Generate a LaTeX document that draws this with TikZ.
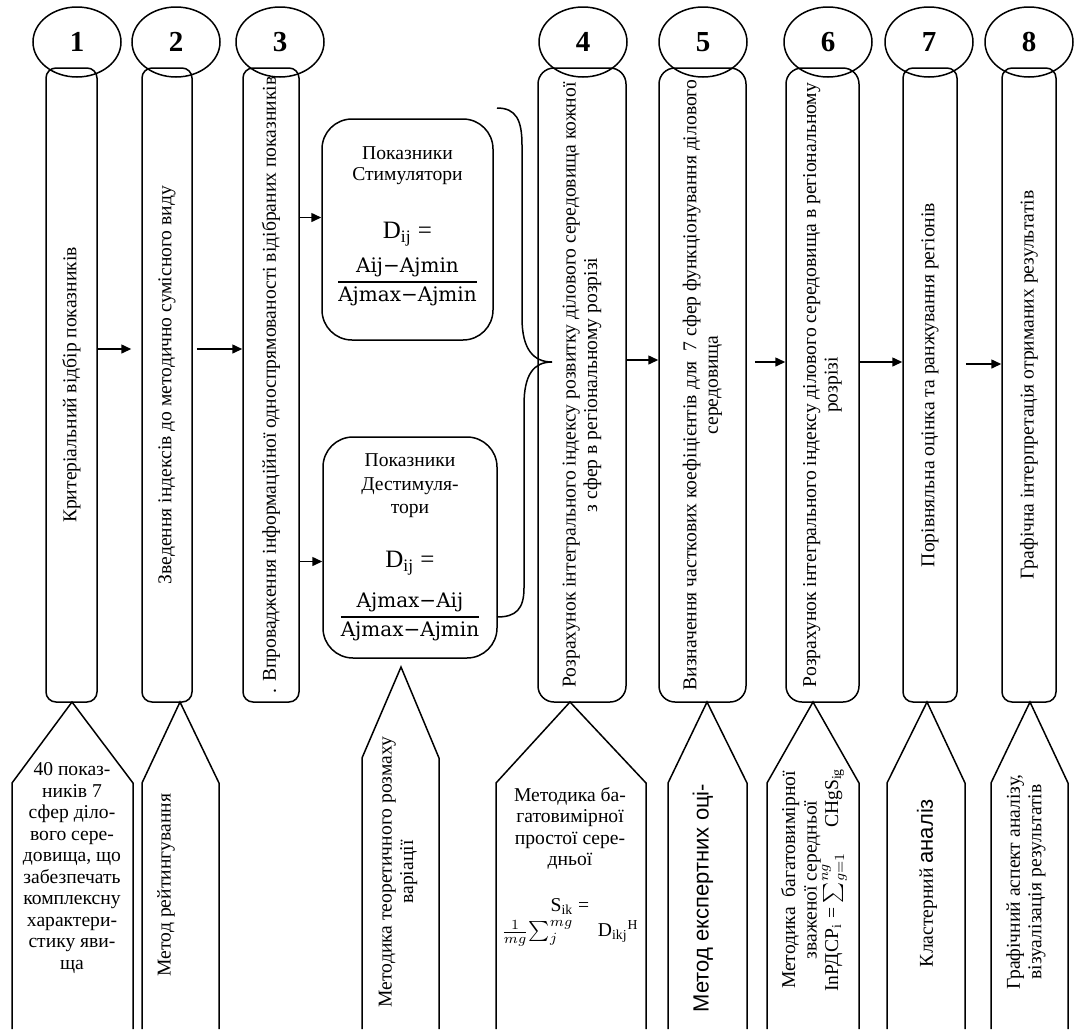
\documentclass[tikz,border=0pt]{standalone}
\usepackage{amsmath}
\usepackage{fontspec}
\setmainfont{Liberation Serif}
\newfontfamily\arialfont{Liberation Sans}
\newfontfamily\cambfont{DejaVu Serif}
\usepackage{tikz}
\usetikzlibrary{calc}
\usetikzlibrary{arrows.meta}
\usetikzlibrary{positioning}
\usetikzlibrary{shapes.geometric}

\begin{document}
\begin{tikzpicture}[x=0.5pt,y=-0.5pt,line width=0.75pt,
    font=\fontsize{9.8}{10.75}\selectfont]
% 1 unit = 1 px of the scan, y runs downwards
    \def\YMID{385}  % middle of the stage boxes
    \def\YSH{783}   % shoulders of the callouts
    \def\YAPEX{702} % callout tips = bottom of the boxes
    \def\YEND{1029} % callouts run off the page

    \tikzset{
      numoval/.style={draw,ellipse,inner sep=0pt,minimum width=44pt,
        minimum height=35pt,font=\fontsize{14.5}{16}\selectfont\bfseries},
      stagebox/.style={draw,rotate=90,rounded corners=5pt,align=center,
        minimum width=317pt,inner xsep=0.5pt,inner ysep=2pt},
      formbox/.style={draw,rounded corners=15pt,align=center,
        minimum height=110.5pt,inner sep=2pt},
      arr/.style={-{Triangle[length=5pt,width=4.5pt]}},
      vlabel/.style={rotate=90,align=center,inner sep=1pt},
    }
    % fraction of the normalisation formulas
    \newcommand{\normfrac}[2]{{\fontsize{10}{12}\selectfont
      $\genfrac{}{}{0.7pt}{0}{\text{\cambfont #1}}{\text{\cambfont #2}}$}}

    \useasboundingbox (0,0) rectangle (1082,\YEND);

    % NUMBERS
    \node[numoval] (o1) at (77,42) {1};
    \node[numoval] (o2) at (176,42) {2};
    \node[numoval] (o3) at (280,42) {3};
    \node[numoval] (o4) at (583,42) {4};
    \node[numoval] (o5) at (703,42) {5};
    \node[numoval] (o6) at (828,42) {6};
    \node[numoval] (o7) at (929,42) {7};
    \node[numoval] (o8) at (1029,42) {8};

    % STAGE BOXES
    \node[stagebox,minimum height=25.5pt] (b1) at (71.5,\YMID)
        {Критеріальний відбір показників};
    \node[stagebox,minimum height=25pt] (b2) at (167,\YMID)
        {Зведення індексів до методично сумісного виду};
    \node[stagebox,minimum height=28pt] (b3) at (271,\YMID)
        {. Впровадження інформаційної односпрямованості відібраних показників};
    \node[stagebox,rounded corners=8pt,minimum height=44pt] (b4) at (582,\YMID)
        {Розрахунок інтегрального індексу розвитку ділового середовища кожної\\
         з сфер в регіональному розрізі};
    \node[stagebox,rounded corners=8pt,minimum height=43.5pt] (b5) at (702.5,\YMID)
        {Визначення часткових коефіцієнтів для\ \ 7 сфер функціонування ділового\\
         середовища};
    \node[stagebox,rounded corners=8pt,minimum height=36.5pt] (b6) at (822.5,\YMID)
        {Розрахунок інтегрального індексу ділового середовища в регіональному\\
         розрізі};
    \node[stagebox,minimum height=27pt] (b7) at (930,\YMID)
        {Порівняльна оцінка та ранжування регіонів};
    \node[stagebox,minimum height=27pt] (b8) at (1029,\YMID)
        {Графічна інтерпретація отриманих результатів};

    % FORMULA BOXES
    \node[formbox,minimum width=85.5pt] (stim) at (407.5,229.5)
        {Показники\\Стимулятори\\[18pt]
         {\fontsize{12.5}{14}\selectfont D\textsubscript{ij} =}\\[5pt]
         \normfrac{Aij−Ajmin}{Ajmax−Ajmin}\\[2pt]~};
    \node[formbox,minimum width=87pt] (destim) at (410,547.5)
        {Показники\\[1pt]Дестимуля-\\[1pt]тори\\[16pt]
         {\fontsize{12.5}{14}\selectfont D\textsubscript{ij} =}\\[8pt]
         \normfrac{Ajmax−Aij}{Ajmax−Ajmin}};

    % ARROWS
    \draw[arr] ($(b1.south)+(0,-36)$) -- ($(b2.north)+(-10,-36)$);
    \draw[arr] ($(b2.south)+(4,-36)$) -- ($(b3.north)+(0,-36)$);
    \draw[arr] ($(b3.south |- stim.west)+(0,-12)$) -- ($(stim.west)+(0,-12)$);
    \draw[arr] ($(b3.south |- destim.west)+(0,14)$) -- ($(destim.west)+(0,14)$);
    \draw[arr] ($(b4.south)+(0,-25)$) -- ($(b5.north)+(0,-25)$);
    \draw[arr] ($(b5.south)+(8,-23)$) -- ($(b6.north)+(0,-23)$);
    \draw[arr] ($(b6.south)+(0,-23)$) -- ($(b7.north)+(0,-23)$);
    \draw[arr] ($(b7.south)+(8,-21)$) -- ($(b8.north)+(0,-21)$);

    % BRACE
    \coordinate (bracetop) at (497,108);
    \coordinate (bracebot) at (497,617);
    \coordinate (tip) at (552,362);
    \draw (bracetop) .. controls (516,108) and (522,120) .. (522,145)
        -- (522,318) .. controls (522,350) and (534,362) .. (tip);
    \draw (tip) .. controls (534,362) and (524,374) .. (524,405)
        -- (524,588) .. controls (524,609) and (516,617) .. (bracebot);

    % CALLOUTS
    \draw (12,\YEND) -- (12,\YSH) -- (72,\YAPEX) -- (133,\YSH) -- (133,\YEND);
    \draw (142,\YEND) -- (142,\YSH) -- (180,\YAPEX) -- (219,\YSH) -- (219,\YEND);
    \draw (362,\YEND) -- (362,758) -- (401,667) -- (439,758) -- (439,\YEND);
    \draw (496,\YEND) -- (496,\YSH) -- (570,\YAPEX) -- (646,\YSH) -- (646,\YEND);
    \draw (668,\YEND) -- (668,\YSH) -- (707,\YAPEX) -- (747,\YSH) -- (747,\YEND);
    \draw (767,\YEND) -- (767,\YSH) -- (813,\YAPEX) -- (859,\YSH) -- (859,\YEND);
    \draw (887,\YEND) -- (887,\YSH) -- (927,\YAPEX) -- (965,\YSH) -- (965,\YEND);
    \draw (991,\YEND) -- (991,\YSH) -- (1030,\YAPEX) -- (1068,\YSH) -- (1068,\YEND);

    % CALLOUT TEXTS
    \node[align=center,inner sep=1pt] (t1) at (72,868)
        {40 показ-\\ників 7\\сфер діло-\\вого сере-\\довища, що\\забезпечать\\
         комплексну\\характери-\\стику яви-\\ща};
    \node[vlabel] (t2) at (166,885) {Метод рейтингування};
    \node[vlabel] (t3) at (398,872) {Методика теоретичного розмаху\\варіації};
    \node[align=center,inner sep=1pt] (t4) at (570,867)
        {Методика ба-\\гатовимірної\\простої сере-\\дньої\\[12pt]
         S\textsubscript{ik} =\\[2pt]
         $\frac{1}{mg}{\textstyle\sum_{j}^{mg}}$\quad\ D\textsubscript{ikj}\textsuperscript{H}};
    \node[vlabel,font=\arialfont\fontsize{11}{13}\selectfont] (t5) at (703,898)
        {Метод експертних оці-};
    \node[vlabel] (t6) at (814,880)
        {Методика\ \ багатовимірної\\зваженої середньої\\
         InРДСР\textsubscript{i} = $\sum_{g=1}^{ng}$\quad\ CHgS\textsubscript{ig}};
    \node[vlabel] (t7) at (927,883)
        {Кластерний {\arialfont\fontsize{11}{13}\selectfont аналіз}};
    \node[vlabel] (t8) at (1026,882)
        {Графічний аспект аналізу,\\візуалізація результатів};

\end{tikzpicture}
\end{document}
